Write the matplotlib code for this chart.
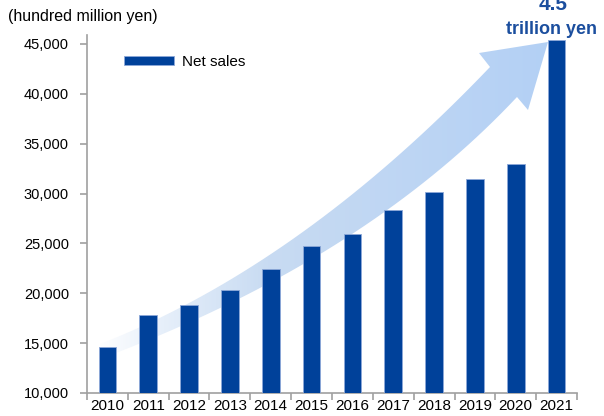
import numpy as np
import matplotlib
matplotlib.use("Agg")
import matplotlib.pyplot as plt
from matplotlib.path import Path
from matplotlib.patches import PathPatch
from matplotlib.colors import LinearSegmentedColormap

plt.rcParams['font.family'] = ['Liberation Sans', 'DejaVu Sans']

# data
years = ['2010', '2011', '2012', '2013', '2014', '2015',
         '2016', '2017', '2018', '2019', '2020', '2021']
net_sales = [14600, 17800, 18800, 20350, 22450, 24750,
             25900, 28400, 30200, 31500, 33000, 45400]
yticks = [10000, 15000, 20000, 25000, 30000, 35000, 40000, 45000]

bar_color = '#00419A'
text_blue = '#1B4E9E'

fig = plt.figure(figsize=(6.04, 4.16), dpi=100)
ax = fig.add_axes([87/604, 1-393/416, 490/604, 358/416])

x = np.arange(len(years))
ax.bar(x, net_sales, width=0.43, color=bar_color, edgecolor='#8DA8D8',
       linewidth=0.6, zorder=3, label='Net sales')

ax.set_xlim(-0.5, len(years)-0.5)
ax.set_ylim(10000, 45900)
ax.set_yticks(yticks)
ax.set_yticklabels([f'{v:,}' for v in yticks], fontsize=10.5)
ax.set_xticks(x)
ax.set_xticklabels(years, fontsize=11)
ax.set_xticks(np.arange(-0.5, len(years)), minor=True)
ax.tick_params(axis='x', which='major', length=0, pad=4)
ax.tick_params(axis='x', which='minor', length=5, color='#A0A0A0', width=1.2)
ax.tick_params(axis='y', length=5, color='#A0A0A0', width=1.2, pad=8)
for s in ['top', 'right']:
    ax.spines[s].set_visible(False)
for s in ['left', 'bottom']:
    ax.spines[s].set_color('#A0A0A0')
    ax.spines[s].set_linewidth(1.2)

# curved arrow decoration, defined in figure pixels (from top-left)
def bez(p0, c, p2, n=40):
    t = np.linspace(0, 1, n)[:, None]
    return (1-t)**2*np.array(p0) + 2*t*(1-t)*np.array(c) + t**2*np.array(p2)

upper = bez((100, 344), (300, 266), (490, 67))
lower = bez((108, 356), (366, 258), (517, 97))
head = np.array([(479, 53), (548, 42), (528, 110)])
pts = np.vstack([upper, head, lower[::-1], upper[:1]])
fx = pts[:, 0] / 604
fy = 1 - pts[:, 1] / 416
codes = [Path.MOVETO] + [Path.LINETO]*(len(pts)-2) + [Path.CLOSEPOLY]
arrow_path = Path(np.column_stack([fx, fy]), codes)
patch = PathPatch(arrow_path, transform=fig.transFigure, facecolor='none',
                  edgecolor='none')
ax.add_patch(patch)

cmap = LinearSegmentedColormap.from_list(
    'grad', [(0, '#FFFFFF'), (0.15, '#E6EFFA'), (0.38, '#C8DBF2'), (1, '#B3D0F5')])
grad = np.linspace(0, 1, 256)[None, :]
img = ax.imshow(grad, cmap=cmap, extent=[95/604, 550/604, 1-360/416, 1-40/416],
                transform=fig.transFigure, aspect='auto', zorder=2)
img.set_clip_path(patch)

# legend
fig.legend(loc='center left', bbox_to_anchor=(124/604, 1-62/416),
           frameon=False, fontsize=11, handlelength=3.3, handleheight=0.55,
           handletextpad=0.5, borderaxespad=0, borderpad=0)

fig.text(8/604, 1-16/416, '(hundred million yen)', fontsize=11.5,
         va='center', ha='left')
fig.text(553/604, 1-5/416, '4.5', fontsize=15, fontweight='bold',
         color=text_blue, ha='center', va='center')
fig.text(552/604, 1-30/416, 'trillion yen', fontsize=13, fontweight='bold',
         color=text_blue, ha='center', va='center')

fig.savefig('out.png', dpi=100)
